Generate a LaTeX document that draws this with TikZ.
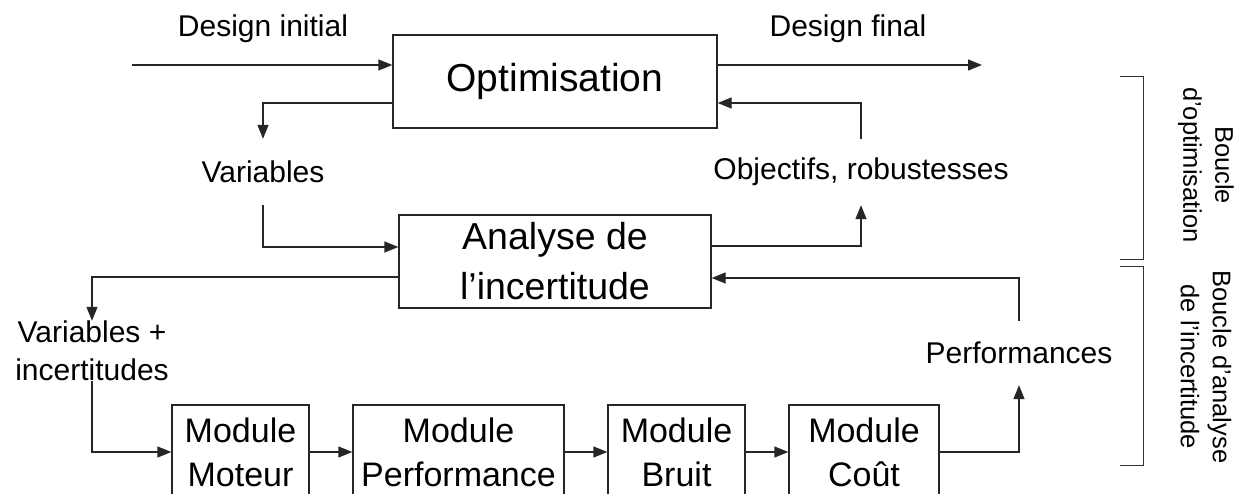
\documentclass[tikz,border=0pt]{standalone}
\usepackage{fontspec}
\setmainfont{Liberation Sans}
\usetikzlibrary{arrows.meta,calc}
\begin{document}
\begin{tikzpicture}[x=1pt,y=-1pt,
  wire/.style={line width=1.3pt, draw=black!85},
  arr/.style={wire, -{Triangle[length=14pt,width=11pt]}},
  block/.style={draw=black!85, line width=1.3pt, inner sep=0pt, align=center},
  modbox/.style={block, minimum height=94pt, font=\fontsize{34}{44}\selectfont},
  lbl/.style={inner sep=0pt, align=center, font=\fontsize{30}{38}\selectfont},
  brace/.style={line width=1pt, draw=black!80},
  side/.style={inner sep=0pt, align=center, rotate=-90, font=\fontsize{25.5}{32}\selectfont},
]
\clip (0,0) rectangle (1242,494);
\fill[white] (0,0) rectangle (1242,494);

% main blocks
\node[block, minimum width=324pt, minimum height=93pt,
      font=\fontsize{39}{50}\selectfont] (opt) at (555,81.5) {Optimisation};
\node[block, minimum width=312pt, minimum height=93pt,
      font=\fontsize{37.5}{50}\selectfont] (ana) at (555,261.5) {Analyse de\\l’incertitude};

% computation modules
\node[modbox, minimum width=137pt] (mot)  at (240.5,452) {Module\\Moteur};
\node[modbox, minimum width=211pt] (perf) at (458.5,452) {Module\\Performance};
\node[modbox, minimum width=137pt] (bru)  at (676.5,452) {Module\\Bruit};
\node[modbox, minimum width=150pt] (cout) at (864,452)   {Module\\Coût};

% flow labels
\node[lbl, anchor=base] (di) at (263,37) {Design initial};
\node[lbl, anchor=base] (df) at (848,37) {Design final};
\node[lbl, minimum height=66pt] (var)   at (263,172)    {Variables};
\node[lbl, minimum height=66pt] (obj)   at (861,172)    {Objectifs, robustesses};
\node[lbl, minimum height=58pt] (vi)    at (92,351)     {Variables +\\incertitudes};
\node[lbl, minimum height=64pt] (perfs) at (1019,353)   {Performances};

% free ends of the outer flow
\coordinate (in)  at (132,65);
\coordinate (out) at (982,65);

% optimisation loop
\draw[arr] (in) -- (in -| opt.west);
\draw[arr] (out -| opt.east) -- (out);
\draw[arr] (opt.west |- 0,103) -| (var.north);
\draw[arr] (var.south) |- (ana.west |- 0,247);
\draw[arr] (ana.east |- 0,246) -| (obj.south);
\draw[arr] (obj.north) |- (opt.east |- 0,103);

% uncertainty loop
\draw[arr] (ana.west |- 0,277) -| (vi.north);
\draw[arr] (vi.south) |- (mot.west);
\draw[arr] (mot.east) -- (perf.west);
\draw[arr] (perf.east) -- (bru.west);
\draw[arr] (bru.east) -- (cout.west);
\draw[arr] (cout.east) -| (perfs.south);
\draw[arr] (perfs.north) |- (ana.east |- 0,278);

% loop brackets
\draw[brace] (1120,77) -| (1143,260) -- (1120,260);
\draw[brace] (1120,267) -| (1143,465) -- (1120,465);
\node[side] (b1) at (1206,165) {Boucle\\d’optimisation};
\node[side] (b2) at (1206,367) {Boucle d’analyse\\de l'incertitude};
\end{tikzpicture}
\end{document}
